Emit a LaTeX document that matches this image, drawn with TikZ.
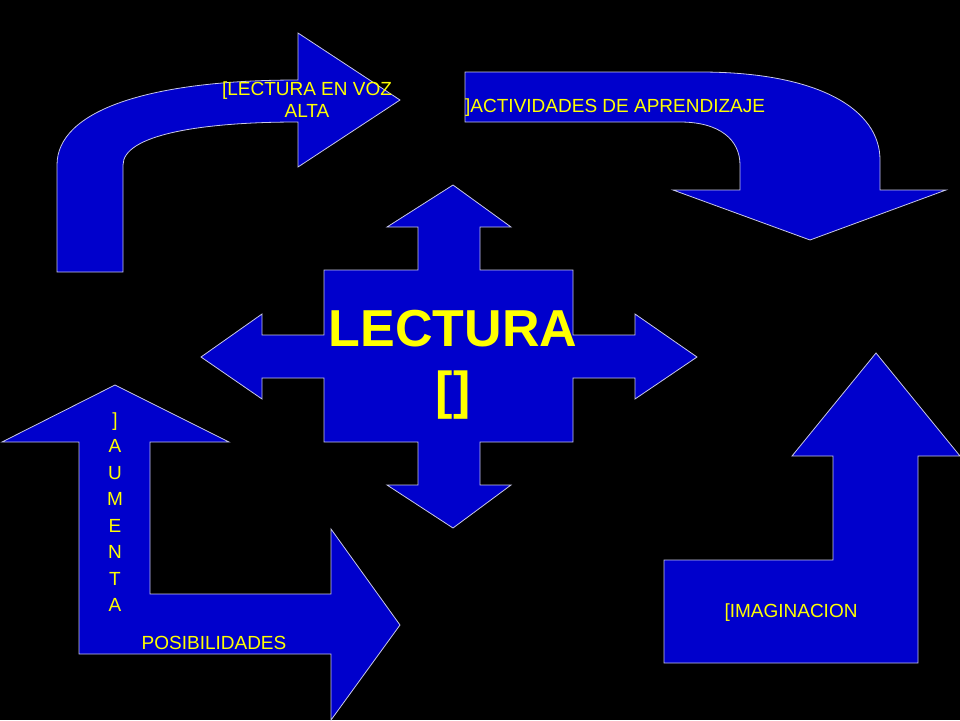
\documentclass[tikz,border=0pt]{standalone}
\usepackage{fontspec}
\setmainfont{Liberation Sans}
\definecolor{oblue}{RGB}{0,0,204}
\definecolor{oyellow}{RGB}{255,255,0}
\definecolor{oedge}{RGB}{200,200,230}
\begin{document}
\begin{tikzpicture}[x=1pt,y=-1pt,
  arrowshape/.style={fill=oblue,draw=oedge,line width=0.8pt,line join=miter},
  lbl/.style={text=oyellow,font=\fontsize{19}{22}\selectfont,align=center,inner sep=0pt}]
  \fill[black] (0,0) rectangle (960,720);
  \useasboundingbox (0,0) rectangle (960,720);

  % top left curved arrow
  \draw[arrowshape] (57,272) -- (57,165) .. controls (57,110) and (150,80) .. (298,80)
     -- (298,33) -- (400,100) -- (298,167) -- (298,122)
     .. controls (200,122) and (123,135) .. (123,165) -- (123,272) -- cycle;
  \node[lbl] (voz) at (307,100) {[LECTURA EN VOZ\\ALTA};

  % top right curved arrow
  \draw[arrowshape] (465,72) -- (700,72) .. controls (820,72) and (880,110) .. (880,160)
     -- (880,190) -- (946,190) -- (810,240) -- (673,190) -- (740,190) -- (740,165)
     .. controls (740,140) and (720,122) .. (680,122) -- (465,122) -- cycle;
  \node[lbl,anchor=west] (act) at (465,108) {]ACTIVIDADES DE APRENDIZAJE};

  % centre cross
  \draw[arrowshape] (324,270) -- (418,270) -- (418,227) -- (387,227) -- (453,185)
     -- (511,227) -- (480,227) -- (480,270) -- (573,270) -- (573,335) -- (635,335)
     -- (635,314) -- (697,357) -- (635,399) -- (635,378) -- (573,378) -- (573,442)
     -- (480,442) -- (480,485) -- (511,485) -- (453,528) -- (387,485) -- (418,485)
     -- (418,442) -- (324,442) -- (324,378) -- (262,378) -- (262,399) -- (201,357)
     -- (262,314) -- (262,335) -- (324,335) -- cycle;
  \node[lbl,font=\bfseries\fontsize{52}{62}\selectfont] (lect) at (453,365) {LECTURA\\{[]}};

  % bottom left bent arrow
  \draw[arrowshape] (79,654) -- (79,442) -- (2,442) -- (115,385) -- (229,442)
     -- (150,442) -- (150,594) -- (331,594) -- (331,529) -- (400,625) -- (331,720)
     -- (331,654) -- cycle;
  \node[lbl,font=\fontsize{19}{26.5}\selectfont] (aum) at (115,512) {]\\A\\U\\M\\E\\N\\T\\A};
  \node[lbl] (pos) at (214,643) {POSIBILIDADES};

  % bottom right bent arrow
  \draw[arrowshape] (664,560) -- (833,560) -- (833,456) -- (792,456) -- (876,353)
     -- (960,456) -- (918,456) -- (918,663) -- (664,663) -- cycle;
  \node[lbl] (imag) at (791,613) {[IMAGINACION};
\end{tikzpicture}
\end{document}
